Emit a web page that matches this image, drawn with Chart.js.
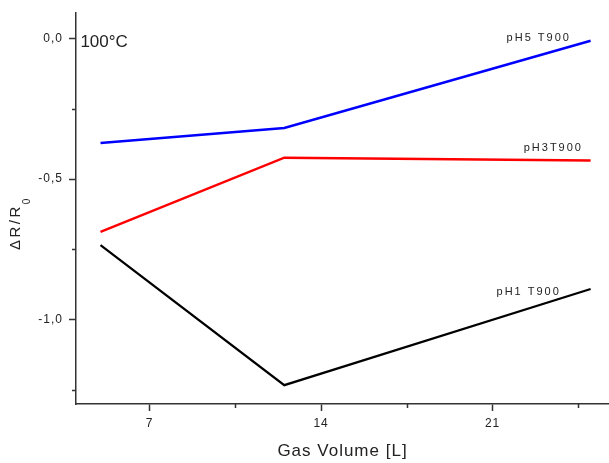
<!DOCTYPE html>
<html>
<head>
<meta charset="utf-8">
<script src="https://cdn.jsdelivr.net/npm/chart.js@4.4.0/dist/chart.umd.min.js"></script>
<style>
  html, body { margin: 0; padding: 0; background: #fff; }
  #wrap { width: 609px; height: 463px; }
</style>
</head>
<body>
<div id="wrap"><canvas id="c" width="609" height="463"></canvas></div>
<script>
// ---- data ----
const gasVolume = [5, 12.5, 25];
const pH5T900 = [-0.372, -0.318, -0.008];
const pH3T900 = [-0.688, -0.424, -0.434];
const pH1T900 = [-0.735, -1.233, -0.891];

const seriesNames = ['pH5 T900', 'pH3T900', 'pH1 T900'];
const xMajorTicks = [7, 14, 21];
const xMinorTicks = [10.5, 17.5, 24.5];
const yMajorTicks = [0, -0.5, -1.0];
const yMinorTicks = [-0.25, -0.75, -1.25];

const yTitleMain = 'ΔR/R';
const yTitleSub = '0';

// text annotations (data units)
const annotations = [
  { text: '100°C', x: 4.18, y: -0.014, size: 17, spacing: 0 },
  { text: 'pH5 T900', x: 21.57, y: 0.003, size: 11, spacing: 2 },
  { text: 'pH3T900', x: 22.27, y: -0.389, size: 11, spacing: 2 },
  { text: 'pH1 T900', x: 21.16, y: -0.901, size: 11, spacing: 2 }
];

const toPts = (xs, ys) => xs.map((x, i) => ({ x: x, y: ys[i] }));
const fmt = v => v.toFixed(1).replace('.', ',');

const AXIS = '#333333';
const TEXT = '#222222';
const FONT = "'Liberation Sans', Arial, sans-serif";

const spacingPlugin = {
  id: 'spacing',
  beforeDraw(chart) { chart.ctx.save(); chart.ctx.letterSpacing = '1px'; },
  afterDraw(chart) { chart.ctx.restore(); }
};

const minorTickPlugin = {
  id: 'minorTicks',
  afterDraw(chart) {
    const ctx = chart.ctx;
    const xs = chart.scales.x, ys = chart.scales.y;
    ctx.save();
    ctx.strokeStyle = AXIS;
    ctx.lineWidth = 1.5;
    ctx.beginPath();
    xMinorTicks.forEach(v => {
      const px = Math.round(xs.getPixelForValue(v)) + 0.5;
      ctx.moveTo(px, xs.top);
      ctx.lineTo(px, xs.top + 4);
    });
    yMinorTicks.forEach(v => {
      const py = Math.round(ys.getPixelForValue(v)) + 0.5;
      ctx.moveTo(ys.right, py);
      ctx.lineTo(ys.right - 4, py);
    });
    ctx.stroke();
    ctx.restore();
  }
};

const annotationPlugin = {
  id: 'annotations',
  afterDraw(chart) {
    const ctx = chart.ctx;
    const xs = chart.scales.x, ys = chart.scales.y;
    ctx.save();
    ctx.fillStyle = TEXT;
    ctx.textAlign = 'left';
    ctx.textBaseline = 'middle';
    annotations.forEach(a => {
      ctx.font = a.size + 'px ' + FONT;
      ctx.letterSpacing = a.spacing + 'px';
      ctx.fillText(a.text, xs.getPixelForValue(a.x), ys.getPixelForValue(a.y));
    });
    // y axis title with subscript, rotated
    ctx.translate(20, 250);
    ctx.rotate(-Math.PI / 2);
    ctx.textBaseline = 'alphabetic';
    ctx.font = '15px ' + FONT;
    ctx.letterSpacing = '2.5px';
    ctx.fillText(yTitleMain, 0, 0);
    const w = ctx.measureText(yTitleMain).width;
    ctx.font = '10px ' + FONT;
    ctx.letterSpacing = '0px';
    ctx.fillText(yTitleSub, w, 10);
    ctx.restore();
  }
};

new Chart(document.getElementById('c'), {
  type: 'line',
  data: {
    datasets: [
      { label: seriesNames[0], data: toPts(gasVolume, pH5T900), borderColor: '#0000ff', borderWidth: 2.5 },
      { label: seriesNames[1], data: toPts(gasVolume, pH3T900), borderColor: '#ff0000', borderWidth: 2.5 },
      { label: seriesNames[2], data: toPts(gasVolume, pH1T900), borderColor: '#000000', borderWidth: 2.2 }
    ]
  },
  options: {
    responsive: false,
    animation: false,
    devicePixelRatio: 1,
    layout: { padding: { top: 10, left: 0, right: 0, bottom: 0 } },
    elements: { point: { radius: 0 }, line: { tension: 0, borderJoinStyle: 'miter' } },
    plugins: { legend: { display: false }, tooltip: { enabled: false } },
    scales: {
      x: {
        type: 'linear',
        min: 4,
        max: 25.75,
        afterFit(s) { s.height = 59; },
        afterBuildTicks(s) { s.ticks = xMajorTicks.map(v => ({ value: v })); },
        border: { display: true, color: AXIS, width: 1.5 },
        grid: { display: true, drawOnChartArea: false, drawTicks: true, tickLength: 7, tickWidth: 1.5, tickColor: AXIS },
        ticks: {
          color: TEXT, font: { family: FONT, size: 12 }, padding: 5, maxRotation: 0,
          callback: v => String(v)
        },
        title: {
          display: true, text: 'Gas Volume [L]', color: TEXT,
          font: { family: FONT, size: 17, lineHeight: 1 }, padding: { top: 0, bottom: 3 }
        }
      },
      y: {
        type: 'linear',
        min: -1.3,
        max: 0.09,
        afterFit(s) { s.width = 76; },
        afterBuildTicks(s) { s.ticks = yMajorTicks.map(v => ({ value: v })); },
        border: { display: true, color: AXIS, width: 1.5 },
        grid: { display: true, drawOnChartArea: false, drawTicks: true, tickLength: 7, tickWidth: 1.5, tickColor: AXIS },
        ticks: {
          color: TEXT, font: { family: FONT, size: 12 }, padding: 6,
          callback: v => fmt(v)
        },
        title: { display: false }
      }
    }
  },
  plugins: [spacingPlugin, minorTickPlugin, annotationPlugin]
});
</script>
</body>
</html>
